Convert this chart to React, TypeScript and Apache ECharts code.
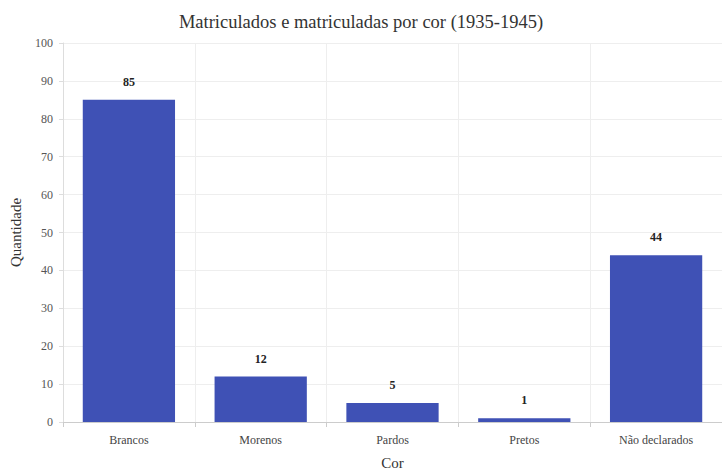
import React, { useEffect, useRef } from "react";
import * as echarts from "echarts";

const categories = ["Brancos", "Morenos", "Pardos", "Pretos", "Não declarados"];
const values = [85, 12, 5, 1, 44];
const titleText = "Matriculados e matriculadas por cor (1935-1945)";

export default function App() {
  const ref = useRef<HTMLDivElement>(null);
  useEffect(() => {
    if (!ref.current) return;
    const chart = echarts.init(ref.current, undefined, { renderer: "svg" });
    const font = "Liberation Serif";
    chart.setOption({
      animation: false,
      textStyle: { fontFamily: font },
      title: {
        text: titleText,
        left: "center",
        top: 7,
        textStyle: { fontFamily: font, fontSize: 18.5, fontWeight: "normal", color: "#333" },
      },
      grid: { left: 60, right: -3, top: 43, bottom: 45 },
      xAxis: {
        type: "category",
        data: categories,
        name: "Cor",
        nameLocation: "middle",
        nameGap: 33,
        nameTextStyle: { fontFamily: font, fontSize: 15, color: "#333" },
        axisLine: { show: true, lineStyle: { color: "#ccc" } },
        axisTick: { show: true, lineStyle: { color: "#ccc" } },
        axisLabel: { fontFamily: font, fontSize: 12, color: "#444", margin: 12 },
        splitLine: { show: true, lineStyle: { color: "#eee" } },
      },
      yAxis: {
        type: "value",
        min: 0,
        max: 100,
        interval: 10,
        name: "Quantidade",
        nameLocation: "middle",
        nameGap: 40,
        nameTextStyle: { fontFamily: font, fontSize: 15, color: "#333" },
        axisLine: { show: true, lineStyle: { color: "#ddd" } },
        axisTick: { show: true, length: 4, lineStyle: { color: "#ddd" } },
        axisLabel: { fontFamily: font, fontSize: 12, color: "#555", margin: 10 },
        splitLine: { show: true, lineStyle: { color: "#eee" } },
      },
      series: [
        {
          type: "bar",
          data: values,
          barWidth: "70%",
          itemStyle: { color: "#3f51b5" },
          label: {
            show: true,
            position: "top",
            distance: 12,
            fontFamily: font,
            fontSize: 12,
            fontWeight: "bold",
            color: "#222",
          },
        },
      ],
    });
    return () => chart.dispose();
  }, []);
  return (
    <div
      ref={ref}
      style={{ position: "absolute", left: 0, top: 0, width: 722, height: 475 }}
    />
  );
}
